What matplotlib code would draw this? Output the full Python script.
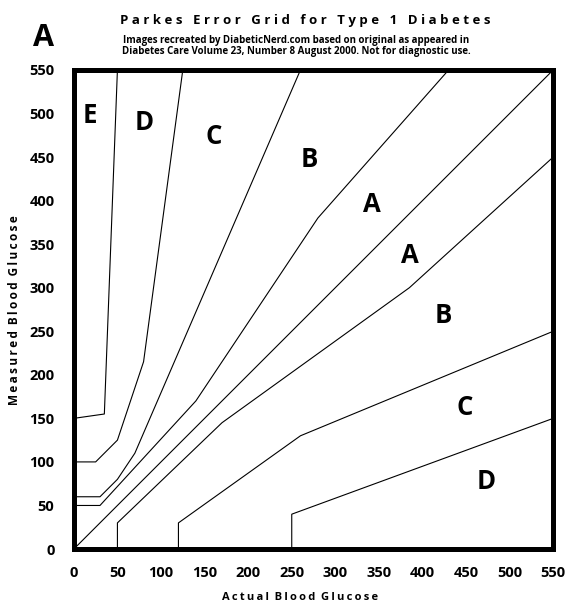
import matplotlib
matplotlib.use('Agg')
import matplotlib.pyplot as plt

plt.rcParams['font.family'] = ['Open Sans', 'DejaVu Sans']

# zone boundary lines (actual, measured)
a_upper_x = [0, 30, 140, 280, 430]
a_upper_y = [50, 50, 170, 380, 550]
a_lower_x = [50, 50, 170, 385, 550]
a_lower_y = [0, 30, 145, 300, 450]
b_upper_x = [0, 30, 50, 70, 260]
b_upper_y = [60, 60, 80, 110, 550]
b_lower_x = [120, 120, 260, 550]
b_lower_y = [0, 30, 130, 250]
c_upper_x = [0, 25, 50, 80, 125]
c_upper_y = [100, 100, 125, 215, 550]
c_lower_x = [250, 250, 550]
c_lower_y = [0, 40, 150]
d_upper_x = [0, 35, 50]
d_upper_y = [150, 155, 550]
diag_x = [0, 550]
diag_y = [0, 550]

zone_names = ['E', 'D', 'C', 'B', 'A', 'A', 'B', 'C', 'D']
zone_x = [18, 81, 161, 270, 342, 385, 424, 448, 473]
zone_y = [498, 490, 473, 447, 395, 337, 268, 162, 77]

ticks = [0, 50, 100, 150, 200, 250, 300, 350, 400, 450, 500, 550]


def spaced(s, gap='\u2009'):
    return '  '.join(gap.join(w) for w in s.split(' '))


fig = plt.figure(figsize=(5.68, 6.08), dpi=100)
ax = fig.add_axes([0.130, 0.097, 0.844, 0.788])

lines = [(a_upper_x, a_upper_y), (a_lower_x, a_lower_y),
         (b_upper_x, b_upper_y), (b_lower_x, b_lower_y),
         (c_upper_x, c_upper_y), (c_lower_x, c_lower_y),
         (d_upper_x, d_upper_y), (diag_x, diag_y)]
for xs, ys in lines:
    ax.plot(xs, ys, color='black', lw=0.8)

for name, x, y in zip(zone_names, zone_x, zone_y):
    ax.text(x, y, name, fontsize=18.5, fontweight='bold', ha='center', va='center')

ax.set_xlim(0, 550)
ax.set_ylim(0, 550)
ax.set_xticks(ticks)
ax.set_yticks(ticks)
ax.tick_params(length=0, labelsize=10.5)
ax.tick_params(axis='x', pad=12)
ax.tick_params(axis='y', pad=14)
for lbl in ax.get_xticklabels() + ax.get_yticklabels():
    lbl.set_fontweight('bold')
for sp in ax.spines.values():
    sp.set_linewidth(3.6)

fig.text(0.528, 0.008, spaced('Actual Blood Glucose'), fontsize=8, fontweight='bold',
         ha='center', va='bottom')
fig.text(0.025, 0.49, spaced('Measured Blood Glucose'), fontsize=8.5, fontweight='bold',
         ha='center', va='center', rotation=90)

fig.text(0.537, 0.967, 'P a r k e s   E r r o r   G r i d   f o r   T y p e   1   D i a b e t e s',
         fontsize=9.5, fontweight='bold', ha='center', va='center')
fig.text(0.522, 0.925, 'Images recreated by DiabeticNerd.com based on original as appeared in\n'
         'Diabetes Care Volume 23, Number 8 August 2000. Not for diagnostic use.',
         fontsize=7, fontweight='bold', ha='center', va='center', linespacing=1.0)
fig.text(0.076, 0.937, 'A', fontsize=22, fontweight='bold', ha='center', va='center')

fig.savefig('out.png', dpi=100)
